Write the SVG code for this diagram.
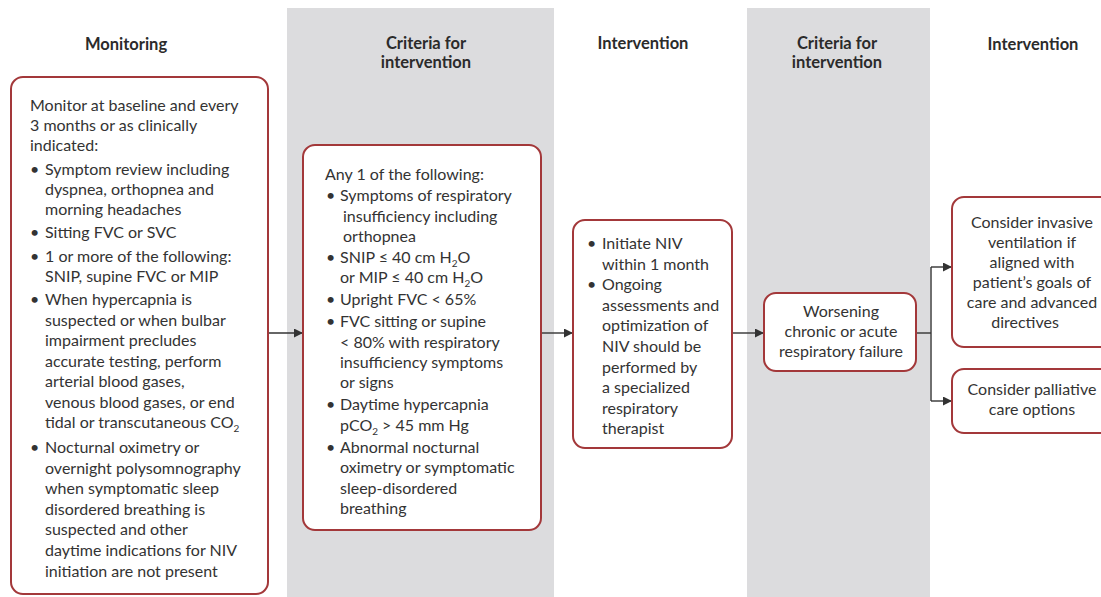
<svg xmlns="http://www.w3.org/2000/svg" width="1101" height="597" viewBox="0 0 1101 597">
<style>
.col{fill:#dcdcde}
.box{fill:#ffffff;stroke:#a3383a;stroke-width:2}
.hd{font-family:Lato,"Liberation Sans",sans-serif;font-weight:bold;font-size:16.5px;fill:#2b2b2b;text-anchor:middle}
.t{font-family:Lato,"Liberation Sans",sans-serif;font-size:16px;fill:#333333}
.c{text-anchor:middle}
.sub{font-size:10px}
.ln{fill:none;stroke:#333333;stroke-width:1.4}
</style>
<defs>
<marker id="ah" viewBox="0 0 10 10" refX="10" refY="5" markerWidth="9" markerHeight="9" markerUnits="userSpaceOnUse" orient="auto">
<path d="M0,0 L10,5 L0,10 z" fill="#333333"/>
</marker>
</defs>
<rect class="col" x="287" y="8" width="267" height="589"/>
<rect class="col" x="747" y="8" width="183" height="589"/>
<g id="headers">
<text class="hd" x="126" y="50">Monitoring</text>
<text class="hd" x="426" y="49">Criteria for</text>
<text class="hd" x="426" y="68">intervention</text>
<text class="hd" x="643" y="49">Intervention</text>
<text class="hd" x="837" y="49">Criteria for</text>
<text class="hd" x="837" y="68">intervention</text>
<text class="hd" x="1033" y="50">Intervention</text>
</g>
<g id="connectors">
<line class="ln" x1="268" y1="333" x2="303" y2="333" marker-end="url(#ah)"/>
<line class="ln" x1="541" y1="333" x2="573" y2="333" marker-end="url(#ah)"/>
<line class="ln" x1="732" y1="333" x2="764" y2="333" marker-end="url(#ah)"/>
<polyline class="ln" points="916,333 931,333"/>
<polyline class="ln" points="931,267 931,401"/>
<line class="ln" x1="931" y1="267" x2="952" y2="267" marker-end="url(#ah)"/>
<line class="ln" x1="931" y1="401" x2="952" y2="401" marker-end="url(#ah)"/>
</g>
<g id="monitoring">
<rect class="box" x="11" y="77" width="257" height="517" rx="12"/>
<text class="t" x="30" y="111">Monitor at baseline and every</text>
<text class="t" x="30" y="131">3 months or as clinically</text>
<text class="t" x="30" y="151">indicated:</text>
<text class="t" x="30" y="175">•</text>
<text class="t" x="45" y="175">Symptom review including</text>
<text class="t" x="45" y="195">dyspnea, orthopnea and</text>
<text class="t" x="45" y="215">morning headaches</text>
<text class="t" x="30" y="238">•</text>
<text class="t" x="45" y="238">Sitting FVC or SVC</text>
<text class="t" x="30" y="262">•</text>
<text class="t" x="45" y="262">1 or more of the following:</text>
<text class="t" x="45" y="282">SNIP, supine FVC or MIP</text>
<text class="t" x="30" y="305">•</text>
<text class="t" x="45" y="305">When hypercapnia is</text>
<text class="t" x="45" y="326">suspected or when bulbar</text>
<text class="t" x="45" y="346">impairment precludes</text>
<text class="t" x="45" y="367">accurate testing, perform</text>
<text class="t" x="45" y="387">arterial blood gases,</text>
<text class="t" x="45" y="408">venous blood gases, or end</text>
<text class="t" x="45" y="428">tidal or transcutaneous CO<tspan class="sub" dy="4">2</tspan></text>
<text class="t" x="30" y="453">•</text>
<text class="t" x="45" y="453">Nocturnal oximetry or</text>
<text class="t" x="45" y="474">overnight polysomnography</text>
<text class="t" x="45" y="494">when symptomatic sleep</text>
<text class="t" x="45" y="515">disordered breathing is</text>
<text class="t" x="45" y="535">suspected and other</text>
<text class="t" x="45" y="556">daytime indications for NIV</text>
<text class="t" x="45" y="577">initiation are not present</text>
</g>
<g id="criteria1">
<rect class="box" x="303" y="145" width="238" height="385" rx="12"/>
<text class="t" x="325" y="180">Any 1 of the following:</text>
<text class="t" x="326" y="201">•</text>
<text class="t" x="340" y="201">Symptoms of respiratory</text>
<text class="t" x="343" y="222">insufficiency including</text>
<text class="t" x="343" y="242">orthopnea</text>
<text class="t" x="326" y="263">•</text>
<text class="t" x="340" y="263">SNIP ≤ 40 cm H<tspan class="sub" dy="4">2</tspan><tspan dy="-4">O</tspan></text>
<text class="t" x="340" y="283">or MIP ≤ 40 cm H<tspan class="sub" dy="4">2</tspan><tspan dy="-4">O</tspan></text>
<text class="t" x="326" y="305">•</text>
<text class="t" x="340" y="305">Upright FVC &lt; 65%</text>
<text class="t" x="326" y="327">•</text>
<text class="t" x="340" y="327">FVC sitting or supine</text>
<text class="t" x="340" y="348">&lt; 80% with respiratory</text>
<text class="t" x="340" y="368">insufficiency symptoms</text>
<text class="t" x="340" y="388">or signs</text>
<text class="t" x="326" y="410">•</text>
<text class="t" x="340" y="410">Daytime hypercapnia</text>
<text class="t" x="340" y="431">pCO<tspan class="sub" dy="4">2</tspan><tspan dy="-4"> &gt; 45 mm Hg</tspan></text>
<text class="t" x="326" y="453">•</text>
<text class="t" x="340" y="453">Abnormal nocturnal</text>
<text class="t" x="340" y="473">oximetry or symptomatic</text>
<text class="t" x="340" y="494">sleep-disordered</text>
<text class="t" x="340" y="514">breathing</text>
</g>
<g id="intervention1">
<rect class="box" x="573" y="220" width="159" height="228" rx="12"/>
<text class="t" x="587" y="249">•</text>
<text class="t" x="602" y="249">Initiate NIV</text>
<text class="t" x="602" y="270">within 1 month</text>
<text class="t" x="587" y="290">•</text>
<text class="t" x="602" y="290">Ongoing</text>
<text class="t" x="602" y="311">assessments and</text>
<text class="t" x="602" y="331">optimization of</text>
<text class="t" x="602" y="352">NIV should be</text>
<text class="t" x="602" y="373">performed by</text>
<text class="t" x="602" y="393">a specialized</text>
<text class="t" x="602" y="414">respiratory</text>
<text class="t" x="602" y="434">therapist</text>
</g>
<g id="worsening">
<rect class="box" x="764" y="293" width="152" height="78" rx="12"/>
<text class="t c" x="841" y="317">Worsening</text>
<text class="t c" x="841" y="337">chronic or acute</text>
<text class="t c" x="841" y="357">respiratory failure</text>
</g>
<g id="invasive">
<rect class="box" x="952" y="197" width="170" height="150" rx="12"/>
<text class="t c" x="1032" y="228">Consider invasive</text>
<text class="t c" x="1032" y="248">ventilation if</text>
<text class="t c" x="1032" y="268">aligned with</text>
<text class="t c" x="1032" y="288">patient’s goals of</text>
<text class="t c" x="1032" y="308">care and advanced</text>
<text class="t c" x="1025" y="328">directives</text>
</g>
<g id="palliative">
<rect class="box" x="952" y="369" width="170" height="64" rx="12"/>
<text class="t c" x="1032" y="395">Consider palliative</text>
<text class="t c" x="1032" y="415">care options</text>
</g>
</svg>
